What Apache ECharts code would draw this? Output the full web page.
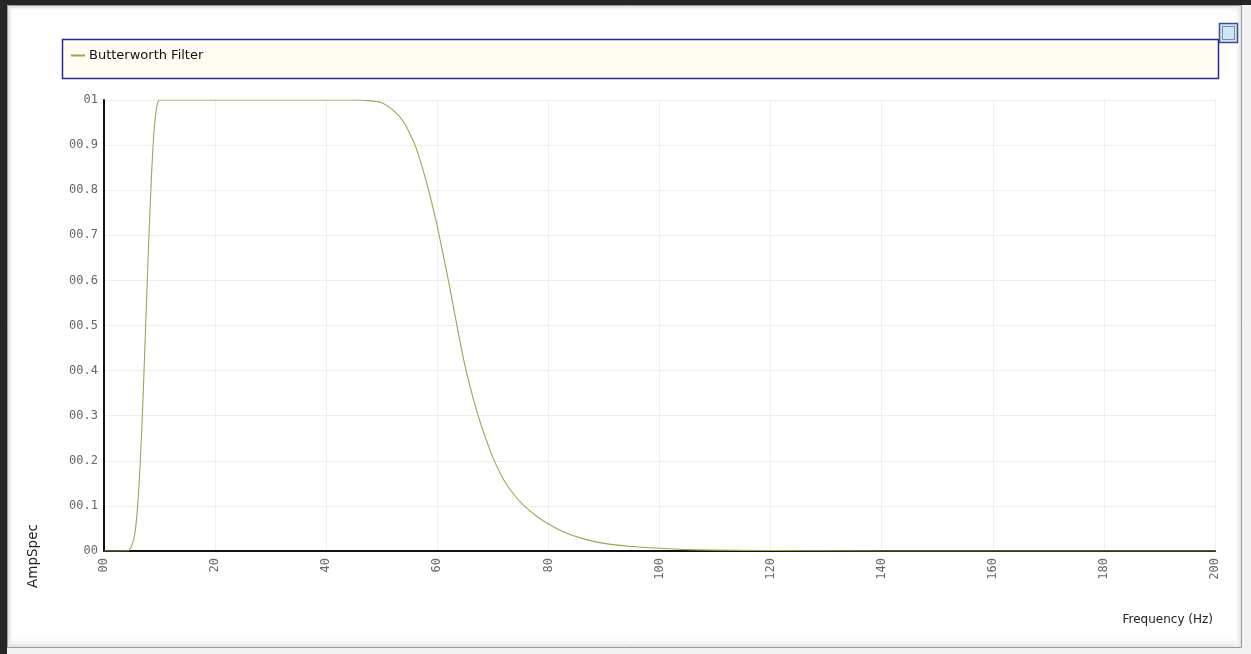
<!DOCTYPE html>
<html>
<head>
<meta charset="utf-8">
<script src="https://cdn.jsdelivr.net/npm/echarts@6/dist/echarts.min.js"></script>
<style>html,body{margin:0;padding:0;background:#f2f2f2;}#c{width:1251px;height:654px;}</style>
</head>
<body>
<div id="c"></div>
<script>
var seriesName = 'Butterworth Filter';
var freq = [0,2,4,4.5,5,5.5,6,6.5,7,7.5,8,8.5,9,9.5,10,15,20,30,40,45,48,50,52,54,56,58,60,61,62,63,64,65,66,67,68,69,70,72,74,76,78,80,83,86,90,95,100,105,110,120,140,160,180,200];
var amp  = [0,0,0,0.002,0.012,0.035,0.09,0.19,0.33,0.50,0.67,0.82,0.93,0.985,1,1,1,1,1,1,0.998,0.994,0.978,0.95,0.9,0.82,0.72,0.66,0.6,0.535,0.47,0.41,0.36,0.315,0.275,0.24,0.207,0.157,0.122,0.096,0.076,0.06,0.041,0.028,0.017,0.01,0.006,0.003,0.002,0.001,0,0,0,0];
var xTicks = [0,20,40,60,80,100,120,140,160,180,200];
var yTickLabels = ['00','00.1','00.2','00.3','00.4','00.5','00.6','00.7','00.8','00.9','01'];
var xAxisTitle = 'Frequency (Hz)';
var yAxisTitle = 'AmpSpec';

var data = freq.map(function(f,i){return [f, amp[i]];});
var mono = '"DejaVu Sans Mono", "Liberation Mono", monospace';
var sans = '"DejaVu Sans", "Liberation Sans", sans-serif';

var chart = echarts.init(document.getElementById('c'), null, {renderer:'canvas'});
chart.setOption({
  backgroundColor: '#f2f2f2',
  animation: false,
  graphic: [
    {type:'rect', z:-10, shape:{x:0,y:0,width:1251,height:654}, style:{fill:'#f2f2f2'}},
    {type:'rect', z:-9, shape:{x:0,y:0,width:1251,height:5}, style:{fill:'#262626'}},
    {type:'rect', z:-9, shape:{x:0,y:0,width:7,height:654}, style:{fill:'#262626'}},
    {type:'rect', z:-8, shape:{x:7.5,y:5.5,width:1234,height:642}, style:{fill:'#ffffff', stroke:'#9a9a9a', lineWidth:1}},
    {type:'rect', z:-7, shape:{x:8,y:6,width:6,height:641}, style:{fill:new echarts.graphic.LinearGradient(0,0,1,0,[{offset:0,color:'#d8d8d8'},{offset:1,color:'rgba(255,255,255,0)'}])}},
    {type:'rect', z:-7, shape:{x:8,y:6,width:1233,height:6}, style:{fill:new echarts.graphic.LinearGradient(0,0,0,1,[{offset:0,color:'#dcdcdc'},{offset:1,color:'rgba(255,255,255,0)'}])}},
    {type:'rect', z:-7, shape:{x:8,y:636,width:1233,height:11}, style:{fill:new echarts.graphic.LinearGradient(0,0,0,1,[{offset:0,color:'rgba(255,255,255,0)'},{offset:1,color:'#e2e2e2'}])}},
    {type:'rect', z:-7, shape:{x:1234,y:6,width:7,height:641}, style:{fill:new echarts.graphic.LinearGradient(0,0,1,0,[{offset:0,color:'rgba(255,255,255,0)'},{offset:1,color:'#e0e0e0'}])}},
    {type:'rect', z:-5, shape:{x:62.5,y:39.5,width:1156,height:39}, style:{fill:'#fffdf3', stroke:'#27279a', lineWidth:1.5}},
    {type:'rect', z:5, shape:{x:1219.5,y:23.5,width:18,height:19}, style:{fill:'#cfe6f7', stroke:'#3a4f9a', lineWidth:1.5}},
    {type:'rect', z:6, shape:{x:1222.5,y:26.5,width:12,height:13}, style:{fill:'none', stroke:'#333', lineWidth:1, lineDash:[1,1]}},
    {type:'text', z:10, x:33, y:556, rotation:Math.PI/2, style:{text:yAxisTitle, font:'13.5px '+sans, fill:'#222', align:'center', verticalAlign:'middle'}},
    {type:'text', z:10, x:1213, y:620, style:{text:xAxisTitle, font:'12px '+sans, fill:'#222', align:'right', verticalAlign:'middle'}}
  ],
  legend: {
    left: 66, top: 44,
    data: [seriesName],
    itemWidth: 14, itemHeight: 2, itemGap: 4,
    icon: 'rect',
    textStyle: {fontFamily: sans, fontSize: 13, color: '#111', padding:[0,0,0,-1]}
  },
  grid: {left:104, right:36, top:100, bottom:103, containLabel:false},
  xAxis: {
    type: 'value', min: 0, max: 200, interval: 20,
    axisLine: {show:true, onZero:false, lineStyle:{color:'#111', width:2}},
    axisTick: {show:false},
    splitLine: {show:true, lineStyle:{color:'#efefef', width:1}},
    axisLabel: {
      rotate: 90, margin: 7, color:'#666', fontFamily: mono, fontSize: 12,
      formatter: function(v){ var i = xTicks.indexOf(v); return i===0 ? '00' : String(xTicks[i]); }
    }
  },
  yAxis: {
    type: 'value', min: 0, max: 1, interval: 0.1,
    axisLine: {show:true, lineStyle:{color:'#111', width:2}},
    axisTick: {show:false},
    splitLine: {show:true, lineStyle:{color:'#efefef', width:1}},
    axisLabel: {
      margin: 6, color:'#666', fontFamily: mono, fontSize: 12,
      formatter: function(v){ return yTickLabels[Math.round(v*10)]; }
    }
  },
  series: [{
    name: seriesName, type: 'line', data: data,
    symbol: 'none', smooth: 0.2,
    lineStyle: {color:'#a0a255', width:1.1},
    itemStyle: {color:'#a0a255'}
  }]
});
</script>
</body>
</html>
